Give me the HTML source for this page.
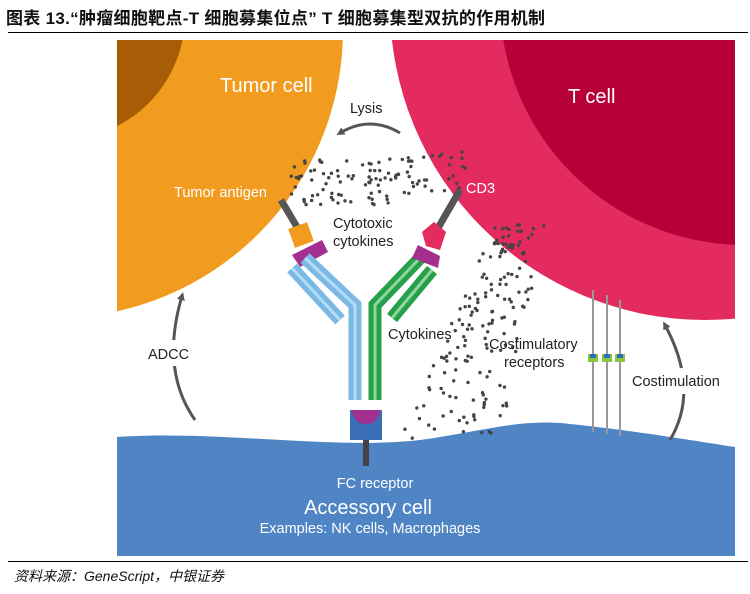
<!DOCTYPE html>
<html><head><meta charset="utf-8"><style>
body{margin:0;width:750px;height:594px;background:#fff;overflow:hidden;position:relative;font-family:"Liberation Sans","Noto Sans CJK SC",sans-serif}
.t{position:absolute;left:6px;top:4px;font-size:17px;font-weight:bold;color:#111;font-family:"Liberation Sans","Noto Sans CJK SC",sans-serif;letter-spacing:0.3px}
.l1{position:absolute;left:8px;top:32px;width:740px;height:1px;background:#000}
.l2{position:absolute;left:8px;top:561px;width:740px;height:1px;background:#000}
.src{position:absolute;left:14px;top:566px;font-size:14px;font-style:italic;color:#111;font-family:"Liberation Sans","Noto Sans CJK SC",sans-serif}
svg{position:absolute;left:0;top:0}
</style></head><body>
<div class="t">图表 13.“肿瘤细胞靶点-T 细胞募集位点” T 细胞募集型双抗的作用机制</div>
<div class="l1"></div>
<svg width="750" height="594" viewBox="0 0 750 594" font-family="Liberation Sans, sans-serif">
<defs><clipPath id="c"><rect x="117" y="40" width="618" height="516"/></clipPath>
<marker id="ah" markerWidth="8" markerHeight="8" refX="4" refY="4" orient="auto" markerUnits="userSpaceOnUse"><path d="M0,0 L8,4 L0,8 Z" fill="#555"/></marker></defs>
<g clip-path="url(#c)">
<rect x="117" y="40" width="618" height="516" fill="#fff"/>
<circle cx="55" cy="30" r="288" fill="#f29c1f"/>
<circle cx="60" cy="15" r="125" fill="#a75d06"/>
<circle cx="705" cy="5" r="315" fill="#e42b5f"/>
<circle cx="745" cy="0" r="245" fill="#b5003a"/>
<path d="M117,437 C220,430 330,450 420,440 C480,432 520,418 570,424 C630,430 690,440 735,447 L735,556 L117,556 Z" fill="#4f85c4"/>
<g id="dots" fill="#444"></g>
<g stroke="#999" stroke-width="2"><line x1="593" y1="290" x2="593" y2="432"/><line x1="607" y1="295" x2="607" y2="434"/><line x1="620" y1="300" x2="620" y2="436"/></g>
<g><rect x="588" y="354" width="10" height="8" fill="#8cc63f"/><rect x="602" y="354" width="10" height="8" fill="#8cc63f"/><rect x="615" y="354" width="10" height="8" fill="#8cc63f"/>
<rect x="590" y="354" width="6" height="4" fill="#2a6fb7"/><rect x="604" y="354" width="6" height="4" fill="#2a6fb7"/><rect x="617" y="354" width="6" height="4" fill="#2a6fb7"/></g>
<line x1="281" y1="200" x2="300" y2="232" stroke="#555" stroke-width="7"/>
<line x1="460" y1="190" x2="438" y2="228" stroke="#555" stroke-width="7"/>
<rect x="291" y="225" width="20" height="20" fill="#f29c1f" transform="rotate(-20 301 235)"/>
<path d="M292,255 L322,240 L328,252 L300,267 Z" fill="#a3308e"/>
<path d="M305,258 L355,305 L355,400" fill="none" stroke="#7ab8e6" stroke-width="13"/>
<path d="M305,258 L355,305 L355,400" fill="none" stroke="#b5dcf5" stroke-width="3"/>
<path d="M292,268 L340,320" fill="none" stroke="#7ab8e6" stroke-width="13"/>
<path d="M292,268 L340,320" fill="none" stroke="#b5dcf5" stroke-width="3"/>
<path d="M420,258 L375,305 L375,400" fill="none" stroke="#27a04a" stroke-width="13"/>
<path d="M420,258 L375,305 L375,400" fill="none" stroke="#8fd6a0" stroke-width="3"/>
<path d="M432,270 L392,318" fill="none" stroke="#27a04a" stroke-width="13"/>
<path d="M432,270 L392,318" fill="none" stroke="#8fd6a0" stroke-width="3"/>
<path d="M418,245 L440,256 L438,268 L412,258 Z" fill="#a3308e"/>
<path d="M422,232 L434,222 L446,232 L440,250 L426,246 Z" fill="#e42b5f"/>
<rect x="350" y="410" width="32" height="30" fill="#3a6fb5"/>
<path d="M352,410 L380,410 Q378,424 366,424 Q354,424 352,410 Z" fill="#a3308e"/>
<line x1="366" y1="440" x2="366" y2="466" stroke="#444" stroke-width="6"/>
<path d="M400,133 Q370,115 340,133" fill="none" stroke="#555" stroke-width="3" marker-end="url(#ah)"/>
<path d="M195,420 Q160,370 182,296" fill="none" stroke="#555" stroke-width="3" marker-end="url(#ah)"/>
<path d="M670,440 Q700,390 665,325" fill="none" stroke="#555" stroke-width="3" marker-end="url(#ah)"/>
<rect x="630" y="368" width="102" height="26" fill="#fff"/>
<rect x="144" y="340" width="56" height="26" fill="#fff"/>
</g>
<g font-size="20" fill="#fff"><text x="220" y="92">Tumor cell</text><text x="568" y="103">T cell</text></g>
<g font-size="14.5" fill="#fff"><text x="174" y="197">Tumor antigen</text><text x="466" y="193">CD3</text></g>
<g font-size="14.5" fill="#222"><text x="350" y="113">Lysis</text>
<text x="333" y="228">Cytotoxic</text><text x="333" y="246">cytokines</text>
<text x="388" y="339">Cytokines</text>
<text x="489" y="349">Costimulatory</text><text x="504" y="367">receptors</text>
<text x="632" y="386">Costimulation</text><text x="148" y="359">ADCC</text></g>
<g fill="#fff" text-anchor="middle"><text x="375" y="488" font-size="14.5">FC receptor</text><text x="368" y="514" font-size="20">Accessory cell</text><text x="370" y="533" font-size="14.5">Examples: NK cells, Macrophages</text></g>
</svg>
<div class="l2"></div>
<div class="src">资料来源：GeneScript，中银证券</div>
<script>
var g=document.getElementById('dots'),s=7;function r(){s=(s*9301+49297)%233280;return s/233280;}
function add(n,f){for(var i=0;i<n;i++){var p=f();var c=document.createElementNS('http://www.w3.org/2000/svg','circle');c.setAttribute('cx',p[0]);c.setAttribute('cy',p[1]);c.setAttribute('r',1.7);g.appendChild(c);}}
add(110,function(){var x=290+r()*180;var y=160+r()*45-(x>380?(x-380)*0.2:0);return[x,y];});
add(170,function(){var t=r();var y=225+t*215;var cx=520-t*70;return[cx+(r()-0.5)*(50+t*50),y];});
</script>
</body></html>
